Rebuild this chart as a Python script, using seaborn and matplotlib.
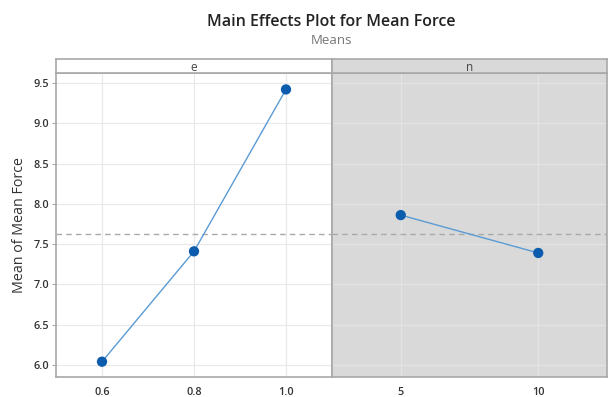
import matplotlib
matplotlib.use("Agg")
import matplotlib.pyplot as plt
import seaborn as sns
import pandas as pd

e_levels = ["0.6", "0.8", "1.0"]
e_means = [6.04, 7.41, 9.42]
n_levels = ["5", "10"]
n_means = [7.86, 7.39]
grand_mean = 7.62
y_ticks = [6.0, 6.5, 7.0, 7.5, 8.0, 8.5, 9.0, 9.5]

sns.set_theme(style="white")
plt.rcParams["font.family"] = ["Open Sans", "DejaVu Sans"]

fig = plt.figure(figsize=(6.1, 3.97), dpi=100)
W, H = 610, 397
left, mid, right = 56, 332, 607
top_plot, top_strip, bottom = 73, 59, 377

def fx(px):
    return px / W

def fy(py):
    return 1 - py / H

ax1 = fig.add_axes([fx(left), fy(bottom), fx(mid - left), fy(top_plot) - fy(bottom)])
ax2 = fig.add_axes([fx(mid), fy(bottom), fx(right - mid), fy(top_plot) - fy(bottom)], sharey=ax1)
s1 = fig.add_axes([fx(left), fy(top_plot), fx(mid - left), fy(top_strip) - fy(top_plot)])
s2 = fig.add_axes([fx(mid), fy(top_plot), fx(right - mid), fy(top_strip) - fy(top_plot)])

edge = "#a8a8a8"
line_c = "#5b9bd5"
mark_c = "#0b5cad"
grid_c1 = "#e9e9e9"
grid_c2 = "#e3e3e3"
panel2 = "#d9d9d9"

df_e = pd.DataFrame({"level": e_levels, "mean": e_means})
df_n = pd.DataFrame({"level": n_levels, "mean": n_means})

for ax, df, n, gc in [(ax1, df_e, 3, grid_c1), (ax2, df_n, 2, grid_c2)]:
    sns.pointplot(data=df, x="level", y="mean", ax=ax, color=line_c,
                  markers="o", linestyles="-", linewidth=1.0,
                  markersize=0, errorbar=None, zorder=3)
    ax.scatter(range(n), df["mean"], s=55, color=mark_c, zorder=4, edgecolor="none")
    ax.set_xlim(-0.5, n - 0.5)
    ax.axhline(grand_mean, color="#a9a9a9", ls=(0, (4, 3)), lw=1.0, zorder=2)
    ax.set_xlabel("")
    ax.set_ylabel("")
    ax.grid(True, color=gc, lw=0.9)
    ax.set_axisbelow(True)
    for sp in ax.spines.values():
        sp.set_color(edge)
        sp.set_linewidth(1.2)
    ax.tick_params(axis="x", length=0, pad=7, labelsize=7.8, labelcolor="#333333")

ax2.set_facecolor(panel2)
ax1.set_ylim(5.85, 9.624)
ax1.set_yticks(y_ticks)
ax1.set_yticklabels([f"{v:.1f}" for v in y_ticks])
ax1.tick_params(axis="y", length=3, width=0.8, color=edge, pad=2, labelsize=7.8, labelcolor="#333333", left=True)
for lab in ax1.get_yticklabels() + ax1.get_xticklabels() + ax2.get_xticklabels():
    lab.set_fontweight("semibold")
ax2.tick_params(axis="y", left=False, labelleft=False)

for s, txt, fc in [(s1, "e", "white"), (s2, "n", panel2)]:
    s.set_facecolor(fc)
    s.set_xticks([])
    s.set_yticks([])
    for sp in s.spines.values():
        sp.set_color(edge)
        sp.set_linewidth(1.2)
    s.text(0.5, 0.42, txt, ha="center", va="center", fontsize=8.5, color="#444444", transform=s.transAxes)

cx = fx((left + right) / 2)
fig.text(cx, fy(22), "Main Effects Plot for Mean Force", ha="center", va="center",
         fontsize=11.5, fontweight="semibold", color="#222222")
fig.text(cx, fy(40), "Means", ha="center", va="center", fontsize=9.5, color="#777777")
fig.text(fx(20), (fy(bottom) + fy(top_plot)) / 2, "Mean of Mean Force", rotation=90,
         ha="center", va="center", fontsize=10.3, color="#333333")

fig.savefig("out.png", dpi=100)
